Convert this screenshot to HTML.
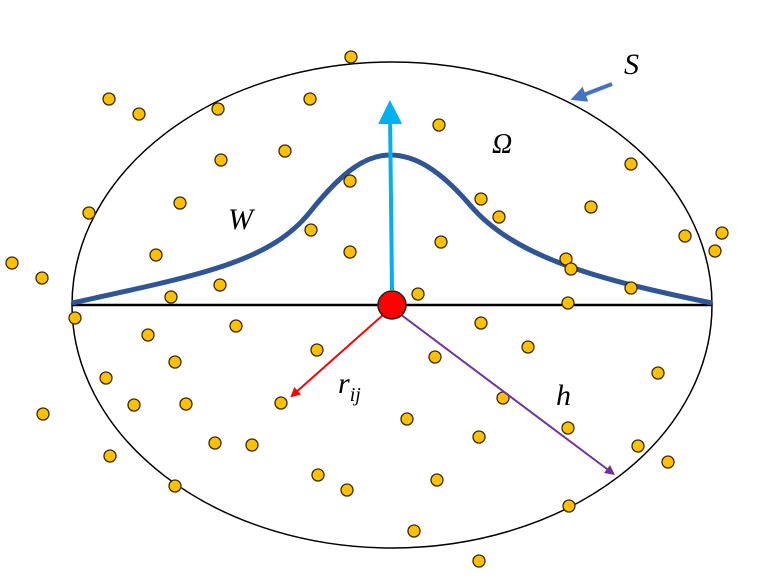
<!DOCTYPE html>
<html><head><meta charset="utf-8"><style>
html,body{margin:0;padding:0;background:#fff;width:778px;height:587px;overflow:hidden}
svg{display:block}
text{font-family:"Liberation Serif",serif;font-style:italic}
</style></head><body>
<svg id="fig" width="778" height="587" viewBox="0 0 778 587" xmlns="http://www.w3.org/2000/svg">
<defs>
<marker id="ab" markerWidth="6" markerHeight="6" refX="3" refY="3" orient="auto" markerUnits="strokeWidth"><path d="M0,0 L6,3 L0,6 z" fill="#00B0F0"/></marker>
<marker id="ar" markerWidth="5" markerHeight="5" refX="2.5" refY="2.5" orient="auto" markerUnits="strokeWidth"><path d="M0,0 L5,2.5 L0,5 z" fill="#FF0000"/></marker>
<marker id="ap" markerWidth="5" markerHeight="5" refX="2.5" refY="2.5" orient="auto" markerUnits="strokeWidth"><path d="M0,0 L5,2.5 L0,5 z" fill="#7030A0"/></marker>
<marker id="as" markerWidth="4" markerHeight="4" refX="2" refY="2" orient="auto" markerUnits="strokeWidth"><path d="M0,0 L4,2 L0,4 z" fill="#4472C4"/></marker>
</defs>
<ellipse cx="392" cy="305" rx="320" ry="243" fill="none" stroke="#000" stroke-width="1.5"/>
<line x1="72" y1="305" x2="712" y2="305" stroke="#000" stroke-width="2.5"/>
<path d="M72,303 C200,275 270,262 310,212 C345,168 368,155 390,155 C415,155 440,170 470,205 C515,258 600,280 712,303" fill="none" stroke="#2F5597" stroke-width="5"/>
<g id="dots"></g>
<line x1="392" y1="290" x2="390" y2="112" stroke="#00B0F0" stroke-width="4" marker-end="url(#ab)"/>
<line x1="384" y1="314" x2="294" y2="394" stroke="#FF0000" stroke-width="2" marker-end="url(#ar)"/>
<line x1="400" y1="314" x2="611" y2="472" stroke="#7030A0" stroke-width="2" marker-end="url(#ap)"/>
<line x1="612" y1="84" x2="578" y2="97" stroke="#4472C4" stroke-width="4" marker-end="url(#as)"/>
<circle cx="392" cy="305" r="14" fill="#FF0000" stroke="#222" stroke-width="1.5"/>
<text x="624" y="74" font-size="30">S</text>
<text x="492" y="153" font-size="28">Ω</text>
<text x="228" y="229" font-size="30">W</text>
<text x="338" y="393" font-size="30">r<tspan font-size="20" dy="8">ij</tspan></text>
<text x="556" y="405" font-size="30">h</text>
</svg>
<script>
const dotX=[351,109,139,218,310,439,221,285,350,631,89,180,481,499,591,311,156,350,441,685,722,715,12,42,566,571,171,220,631,418,568,75,236,148,481,317,528,175,435,106,658,134,186,281,503,43,407,568,215,252,479,638,110,668,318,437,175,347,569,414,479];
const dotY=[57,99,114,109,99,125,160,151,181,164,213,203,199,217,207,230,255,252,242,236,233,251,263,278,259,269,297,285,288,294,303,318,326,335,323,350,347,362,357,378,373,405,404,403,398,414,419,428,443,445,437,446,456,462,475,480,486,490,506,531,561];
const g=document.getElementById('dots');
for(let i=0;i<dotX.length;i++){
  const c=document.createElementNS('http://www.w3.org/2000/svg','circle');
  
  
  c.setAttribute('cx',dotX[i]);c.setAttribute('cy',dotY[i]);c.setAttribute('r',6);
  c.setAttribute('fill','#FFC000');c.setAttribute('stroke','#3a2a00');c.setAttribute('stroke-width','1.3');
  g.appendChild(c);
}
</script>
</body></html>
